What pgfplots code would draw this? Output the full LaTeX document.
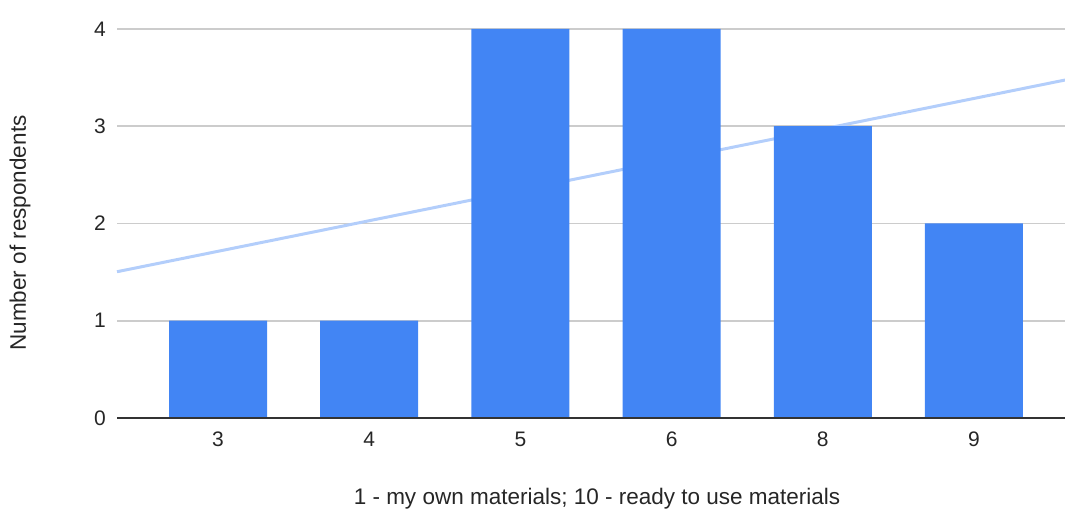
\documentclass[border=0pt]{standalone}
\usepackage{fontspec}
\setmainfont{Liberation Sans}
\usepackage{pgfplots}
\pgfplotsset{compat=1.18}
\definecolor{barblue}{HTML}{4285F4}
\definecolor{trendblue}{HTML}{B3CEFB}
\definecolor{gridgray}{HTML}{CCCCCC}
\begin{document}
\begin{tikzpicture}
\useasboundingbox (0,0) rectangle (1065pt,509pt);
\begin{axis}[
  at={(117pt,91pt)}, anchor=south west,
  scale only axis, width=948pt, height=418pt,
  xmin=-0.668, xmax=5.602, ymin=0, ymax=4.298,
  axis line style={draw=none},
  clip=false,
  xtick={0,1,2,3,4,5},
  xticklabels={3,4,5,6,8,9},
  ytick={0,1,2,3,4},
  ymajorgrids=true,
  grid style={gridgray, line width=1.6pt},
  major tick length=0pt,
  tick style={draw=none},
  /pgf/number format/assume math mode=true,
  tick label style={font=\fontsize{21}{25}\selectfont, text=black!85},
  xticklabel style={anchor=base, yshift=-28pt, inner sep=0pt},
  yticklabel style={anchor=east, xshift=-11pt, inner sep=0pt},
  xlabel={1 - my own materials; 10 - ready to use materials},
  ylabel={Number of respondents},
  label style={font=\fontsize{22.5}{27}\selectfont, text=black!85},
  xlabel style={at={(axis description cs:0.5063,-0.2081)}, anchor=base, inner sep=0pt},
  ylabel style={at={(axis description cs:-0.1023,0.4426)}, anchor=center, inner sep=0pt},
]
\addplot[trendblue, line width=3pt, no marks] coordinates {(-0.668,1.504) (5.602,3.475)};
\addplot[ybar, bar width=98pt, fill=barblue, draw=none, bar shift=0pt] coordinates {
  (0,1) (1,1) (2,4) (3,4) (4,3) (5,2)
};
\draw[black!80, line width=2pt] (axis cs:-0.668,0) -- (axis cs:5.602,0);
\end{axis}
\end{tikzpicture}
\end{document}
